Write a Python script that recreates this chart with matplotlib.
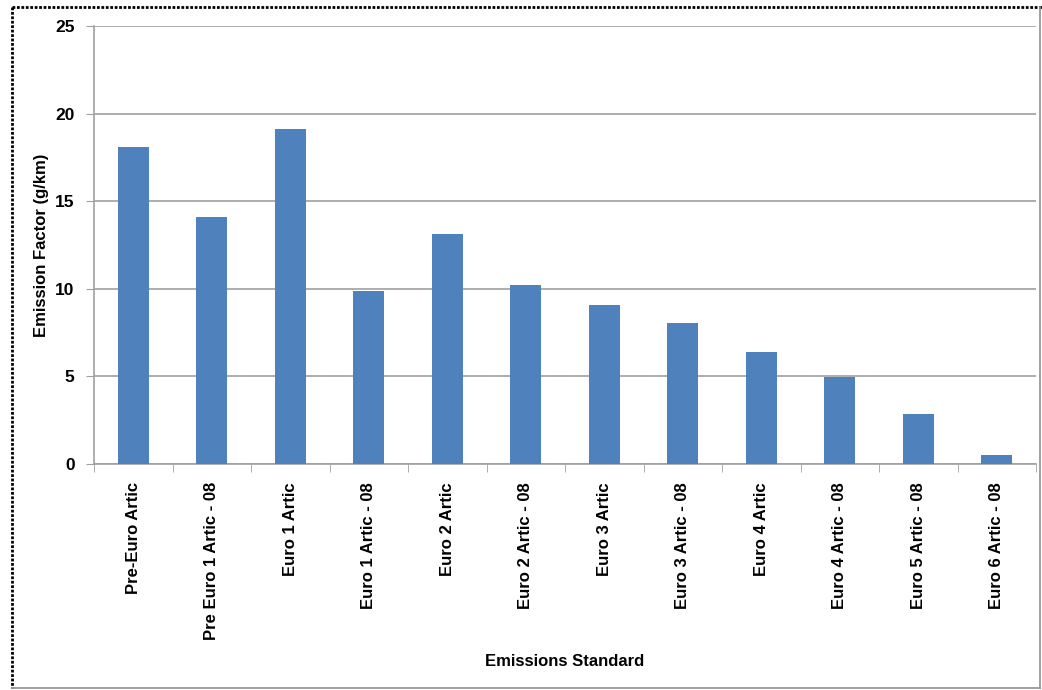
import matplotlib
matplotlib.use("Agg")
import matplotlib.pyplot as plt
import numpy as np
from matplotlib.lines import Line2D

categories = [
    "Pre-Euro Artic",
    "Pre Euro 1 Artic - 08",
    "Euro 1 Artic",
    "Euro 1 Artic - 08",
    "Euro 2 Artic",
    "Euro 2 Artic - 08",
    "Euro 3 Artic",
    "Euro 3 Artic - 08",
    "Euro 4 Artic",
    "Euro 4 Artic - 08",
    "Euro 5 Artic - 08",
    "Euro 6 Artic - 08",
]
emission_factor = [18.07, 14.1, 19.13, 9.9, 13.14, 10.19, 9.07, 8.05, 6.41, 4.96, 2.87, 0.54]
y_ticks = [0, 5, 10, 15, 20, 25]

plt.rcParams["font.family"] = ["Liberation Sans", "DejaVu Sans"]
plt.rcParams["font.weight"] = "bold"

W, H = 1042, 690
fig = plt.figure(figsize=(W / 100, H / 100), dpi=100)
ax = fig.add_axes([94 / W, 1 - 464 / H, (1036 - 94) / W, (464 - 26) / H])

xs = np.arange(len(categories))
ax.bar(xs, emission_factor, width=0.39, color="#4F81BD", zorder=3)

ax.set_xlim(-0.5, len(categories) - 0.5)
ax.set_ylim(0, 25)
ax.set_yticks(y_ticks)
ax.set_yticklabels([str(t) for t in y_ticks], fontsize=12.5, fontweight="bold")
ax.tick_params(axis="y", length=6, color="#a0a0a0", pad=8)

ax.set_xticks(xs)
ax.set_xticklabels(categories, rotation=90, fontsize=12, fontweight="bold")
ax.set_xticks(np.arange(-0.5, len(categories)), minor=True)
ax.tick_params(axis="x", which="major", length=0, pad=13)
ax.tick_params(axis="x", which="minor", length=6, color="#a0a0a0")

ax.grid(axis="y", color="#a0a0a0", linewidth=1.2, zorder=0)
for side in ["top", "right"]:
    ax.spines[side].set_visible(False)
ax.spines["left"].set_color("#a0a0a0")
ax.spines["bottom"].set_color("#a0a0a0")
ax.spines["left"].set_linewidth(1.2)
ax.spines["bottom"].set_linewidth(1.2)

fig.text(42 / W, 1 - 245 / H, "Emission Factor (g/km)", ha="center", va="center",
         rotation=90, fontsize=12, fontweight="bold")
fig.text(565 / W, 1 - 661 / H, "Emissions Standard", ha="center", va="center",
         fontsize=12, fontweight="bold")

# outer frame: dotted top/left, solid bottom/right
fig.add_artist(Line2D([12 / W, 1], [1 - 7 / H, 1 - 7 / H], transform=fig.transFigure,
                      color="black", linewidth=2, linestyle=(0, (1, 0.6))))
fig.add_artist(Line2D([12 / W, 12 / W], [1 - 7 / H, 1 - 688 / H], transform=fig.transFigure,
                      color="black", linewidth=2, linestyle=(0, (1, 0.6))))
fig.add_artist(Line2D([12 / W, 1040 / W], [1 - 688 / H, 1 - 688 / H], transform=fig.transFigure,
                      color="#909090", linewidth=1.2))
fig.add_artist(Line2D([1040 / W, 1040 / W], [1 - 7 / H, 1 - 688 / H], transform=fig.transFigure,
                      color="#909090", linewidth=1.2))

fig.savefig("out.png", dpi=100)
